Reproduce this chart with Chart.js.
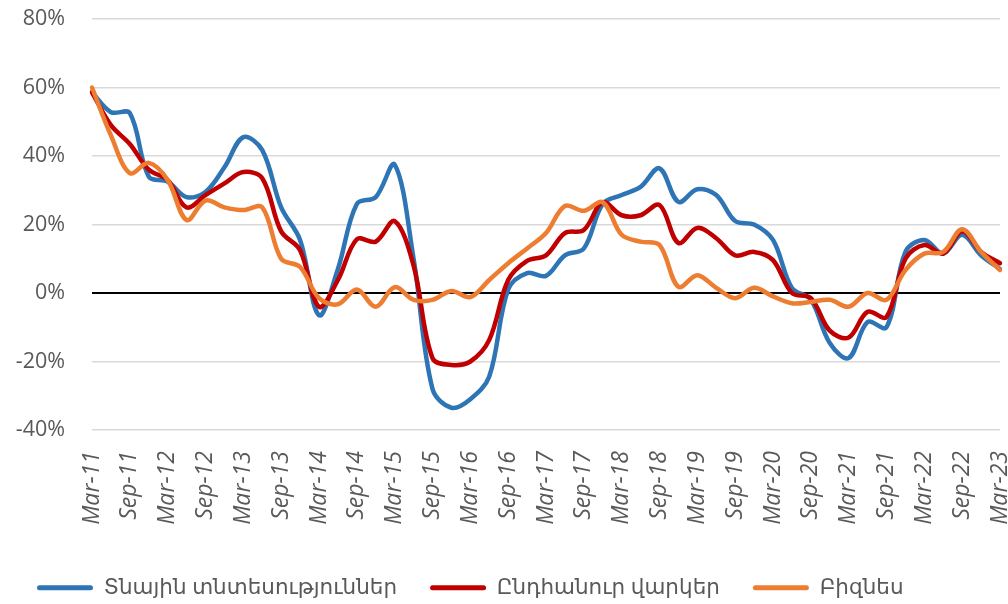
<!DOCTYPE html>
<html>
<head>
<meta charset="utf-8">
<script src="https://cdn.jsdelivr.net/npm/chart.js@4.4.0/dist/chart.umd.min.js"></script>
<style>
  body { margin: 0; background: #fff; }
</style>
</head>
<body>
<canvas id="chart" width="1008" height="604"></canvas>
<script>
// quarterly labels, every second one is shown on the axis
const quarters = [
  'Mar-11', 'Jun-11', 'Sep-11', 'Dec-11', 'Mar-12', 'Jun-12', 'Sep-12', 'Dec-12',
  'Mar-13', 'Jun-13', 'Sep-13', 'Dec-13', 'Mar-14', 'Jun-14', 'Sep-14', 'Dec-14',
  'Mar-15', 'Jun-15', 'Sep-15', 'Dec-15', 'Mar-16', 'Jun-16', 'Sep-16', 'Dec-16',
  'Mar-17', 'Jun-17', 'Sep-17', 'Dec-17', 'Mar-18', 'Jun-18', 'Sep-18', 'Dec-18',
  'Mar-19', 'Jun-19', 'Sep-19', 'Dec-19', 'Mar-20', 'Jun-20', 'Sep-20', 'Dec-20',
  'Mar-21', 'Jun-21', 'Sep-21', 'Dec-21', 'Mar-22', 'Jun-22', 'Sep-22', 'Dec-22',
  'Mar-23'
];

// Տնային տնտեսություններ
const households = [
  58.6, 52.8, 52.5, 34, 32.5, 28, 29.5, 36.7,
  45.5, 41.7, 25, 15.5, -6.5, 7, 26, 28,
  37.5, 10, -28, -33.5, -31, -24.4, 1, 5.8,
  5, 11, 13, 26, 28.6, 31, 36.4, 26.6,
  30.3, 28.6, 21, 20, 15.5, 1.5, -2, -14.6,
  -19, -8.5, -10, 12, 15.5, 11.5, 17, 11,
  7
];

// Ընդհանուր վարկեր
const totalLoans = [
  58.6, 49, 43.5, 36, 33, 25, 28.6, 32,
  35.3, 33.5, 18, 12.5, -4, 3.8, 15.7, 15,
  21, 8, -19, -21, -20, -13.7, 3.8, 9.4,
  11, 17.5, 18.4, 26.5, 22.7, 22.7, 25.7, 14.6,
  19, 16, 11, 12, 9.6, 0, -1.5, -11,
  -13, -5.5, -7, 10, 14, 11.5, 18, 12,
  8.7
];

// Բիզնես
const business = [
  60, 46, 35, 38, 33, 21.3, 27, 25,
  24.2, 25, 10, 7.6, -1.5, -3.3, 1, -4,
  1.7, -2, -2, 0.6, -1.2, 3.8, 8.7, 13,
  17.5, 25.4, 24, 26.5, 17, 15, 14, 1.8,
  5.2, 1.5, -1.5, 1.5, -1, -3, -2.6, -2,
  -4, 0, -2, 6.7, 11.5, 12, 18.6, 12,
  6.7
];

const seriesNames = ['Տնային տնտեսություններ', 'Ընդհանուր վարկեր', 'Բիզնես'];
const seriesColors = ['#2E75B6', '#C00000', '#ED7D31'];

const yMin = -40;
const yMax = 80;
const yStep = 20;

const textColor = '#595959';
const fontFamily = '"Open Sans", "Noto Sans", "DejaVu Sans", sans-serif';

function makeLine(i, values) {
  return {
    label: seriesNames[i],
    data: values,
    borderColor: seriesColors[i],
    backgroundColor: seriesColors[i],
    borderWidth: 4.5,
    borderCapStyle: 'round',
    borderJoinStyle: 'round',
    pointRadius: 0,
    pointHoverRadius: 0,
    tension: 0.35,
    fill: false,
    order: 3 - i
  };
}

const ctx = document.getElementById('chart').getContext('2d');

new Chart(ctx, {
  type: 'line',
  data: {
    labels: quarters,
    datasets: [
      makeLine(0, households),
      makeLine(1, totalLoans),
      makeLine(2, business)
    ]
  },
  options: {
    responsive: false,
    animation: false,
    layout: {
      padding: { left: 4, top: 19, right: 8, bottom: 0 }
    },
    plugins: {
      tooltip: { enabled: false },
      legend: {
        position: 'bottom',
        align: 'start',
        maxHeight: 60,
        labels: {
          boxWidth: 56,
          boxHeight: 5,
          padding: 33,
          color: textColor,
          font: { family: fontFamily, size: 21.5 },
          sort: (a, b) => a.datasetIndex - b.datasetIndex,
          generateLabels: chart => Chart.defaults.plugins.legend.labels.generateLabels(chart)
            .map(item => ({ ...item, lineWidth: 0, fillStyle: item.strokeStyle, borderRadius: 2.5 }))
        }
      }
    },
    scales: {
      x: {
        grid: { display: false },
        border: { display: false },
        ticks: {
          autoSkip: false,
          minRotation: 90,
          maxRotation: 90,
          padding: 13,
          color: textColor,
          font: { family: fontFamily, size: 23, style: 'italic' },
          callback: function (val, i) {
            return i % 2 === 0 ? this.getLabelForValue(val) : '';
          }
        },
        afterFit: s => {
          s.height = 114;
          s.paddingLeft = 0;
          s.paddingRight = 0;
        }
      },
      y: {
        min: yMin,
        max: yMax,
        border: { display: false },
        grid: {
          drawTicks: false,
          color: c => c.tick.value === 0 ? '#000000' : '#d9d9d9',
          lineWidth: c => c.tick.value === 0 ? 2 : 1.5
        },
        ticks: {
          stepSize: yStep,
          padding: 27,
          color: textColor,
          font: { family: fontFamily, size: 21.5 },
          callback: v => v + '%'
        },
        afterFit: s => {
          s.width = 88;
          s.paddingTop = 0;
          s.paddingBottom = 0;
        }
      }
    }
  }
});
</script>
</body>
</html>
